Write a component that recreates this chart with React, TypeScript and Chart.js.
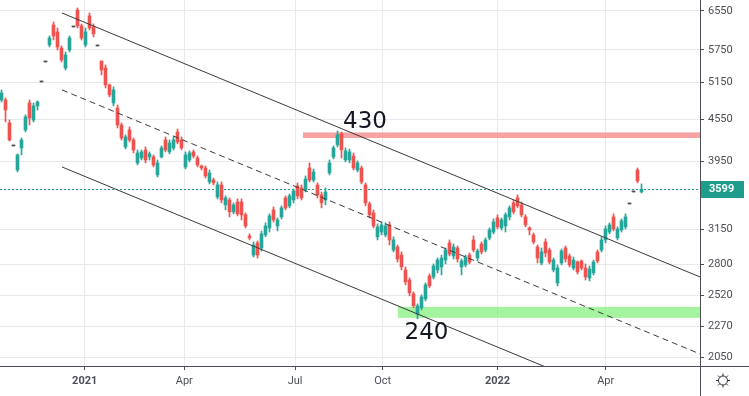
import React, { useEffect, useRef } from "react";
import { Chart, registerables } from "chart.js";

Chart.register(...registerables);

// ---- candle data (one entry per bar, oldest first) ----
const opens = [
  4859, 4859, 4498, 4164, 3841, 4136, 4393, 4811, 4543, 4762,
  5162, 5520, 5845, 6250, 6105, 5785, 5410, 5746, 6208, 6572,
  6229, 5845, 6442, 6208, 5825, 5538, 5410, 5110, 4811, 4730,
  4468, 4150, 4393, 4248, 3933, 3999, 4108, 4013, 4013, 3778,
  4013, 4248, 4081, 4136, 4364, 4248, 3880, 3972, 4081, 3999,
  3893, 3867, 3690, 3714, 3509, 3653, 3416, 3473, 3337, 3450,
  3450, 3304, 3078, 2887, 3007, 2956, 3089, 3162, 3359, 3183,
  3281, 3497, 3405, 3473, 3641, 3616, 3592, 3867, 3714, 3653,
  3533, 3473, 3803, 4013, 4178, 4335, 3972, 3972, 4026, 3841,
  3867, 3653, 3428, 3326, 3068, 3119, 3089, 3194, 2936, 2966,
  2887, 2746, 2655, 2534, 2369, 2418, 2491, 2691, 2682, 2746,
  2774, 2839, 3007, 2878, 2956, 2774, 2793, 2887, 3037, 2858,
  2996, 2936, 3058, 3119, 3270, 3162, 3183, 3281, 3439, 3497,
  3416, 3281, 3162, 3089, 2966, 2811, 3017, 2936, 2746, 2629,
  2811, 2956, 2878, 2764, 2820, 2830, 2764, 2673, 2719, 2917,
  2936, 3037, 3119, 3281, 3058, 3140, 3173, 3427, 3568, 3841,
  3568,
];
const highs = [
  5025, 4892, 4543, 4164, 4054, 4277, 4621, 4859, 4811, 4843,
  5162, 5520, 6024, 6313, 6187, 5825, 5708, 6024, 6208, 6617,
  6271, 6187, 6507, 6271, 5825, 5538, 5465, 5127, 5076, 4778,
  4498, 4321, 4438, 4277, 4108, 4108, 4150, 4081, 4040, 3972,
  4164, 4292, 4248, 4292, 4408, 4292, 4081, 4095, 4108, 4026,
  3906, 3893, 3841, 3739, 3690, 3690, 3521, 3497, 3439, 3485,
  3485, 3326, 3099, 3017, 3027, 3130, 3216, 3315, 3393, 3270,
  3405, 3521, 3544, 3604, 3678, 3653, 3765, 3933, 3854, 3678,
  3568, 3616, 3972, 4164, 4379, 4364, 4136, 4122, 4067, 3959,
  3893, 3678, 3450, 3359, 3205, 3226, 3216, 3226, 3068, 2986,
  2917, 2774, 2673, 2551, 2450, 2526, 2629, 2709, 2802, 2858,
  2887, 2956, 3037, 2996, 2976, 2849, 2887, 2907, 3078, 2946,
  3017, 3058, 3162, 3259, 3304, 3270, 3326, 3405, 3473, 3533,
  3450, 3304, 3173, 3109, 2986, 2956, 3047, 2956, 2858, 2793,
  2946, 2976, 2897, 2868, 2830, 2839, 2802, 2783, 2839, 2936,
  3068, 3183, 3216, 3315, 3173, 3259, 3315, 3427, 3568, 3867,
  3665,
];
const lows = [
  4827, 4513, 4234, 4164, 3816, 4040, 4364, 4468, 4513, 4698,
  5162, 5520, 5805, 5943, 5746, 5520, 5373, 5708, 6208, 6187,
  5943, 5805, 6145, 6004, 5825, 5285, 5059, 4909, 4762, 4423,
  4248, 4122, 4220, 4067, 3906, 3972, 3933, 3972, 3880, 3752,
  3999, 4081, 4054, 4108, 4192, 4108, 3854, 3946, 3999, 3880,
  3841, 3739, 3665, 3653, 3485, 3439, 3359, 3281, 3315, 3292,
  3248, 3162, 3037, 2868, 2858, 2926, 3068, 3119, 3226, 3130,
  3259, 3359, 3382, 3439, 3485, 3473, 3568, 3690, 3690, 3497,
  3382, 3416, 3778, 3986, 4150, 3999, 3946, 3933, 3841, 3816,
  3665, 3405, 3270, 3162, 3037, 3089, 3068, 2986, 2917, 2820,
  2746, 2612, 2517, 2418, 2330, 2401, 2475, 2586, 2664, 2719,
  2700, 2802, 2878, 2849, 2820, 2700, 2774, 2802, 2917, 2830,
  2897, 2917, 3037, 3099, 3151, 3140, 3119, 3248, 3315, 3382,
  3281, 3173, 3089, 2996, 2811, 2793, 2868, 2802, 2728, 2603,
  2793, 2820, 2774, 2746, 2709, 2746, 2655, 2646, 2700, 2811,
  2917, 3007, 3099, 3130, 3037, 3119, 3151, 3427, 3568, 3678,
  3556,
];
const closes = [
  4975, 4698, 4248, 4164, 4040, 4248, 4590, 4574, 4762, 4827,
  5162, 5520, 5983, 6024, 5805, 5557, 5651, 5983, 6208, 6229,
  5983, 6105, 6187, 6064, 5825, 5373, 5110, 4942, 5025, 4468,
  4277, 4292, 4248, 4108, 4067, 4081, 3972, 4054, 3906, 3933,
  4136, 4108, 4206, 4248, 4220, 4136, 4040, 4067, 4026, 3906,
  3867, 3765, 3803, 3678, 3653, 3473, 3497, 3337, 3416, 3315,
  3304, 3183, 3058, 2986, 2887, 3099, 3183, 3292, 3248, 3248,
  3382, 3382, 3521, 3580, 3521, 3497, 3727, 3714, 3816, 3533,
  3439, 3568, 3933, 4136, 4321, 4108, 4095, 4081, 3867, 3933,
  3690, 3439, 3304, 3183, 3173, 3194, 3183, 3037, 3037, 2849,
  2774, 2638, 2543, 2434, 2434, 2508, 2612, 2603, 2783, 2839,
  2858, 2936, 2897, 2966, 2849, 2830, 2868, 2820, 2936, 2926,
  2917, 3037, 3140, 3226, 3173, 3248, 3304, 3382, 3337, 3405,
  3304, 3194, 3140, 3017, 2858, 2917, 2907, 2820, 2839, 2764,
  2926, 2849, 2793, 2839, 2728, 2764, 2682, 2755, 2820, 2830,
  3037, 3151, 3194, 3151, 3151, 3237, 3281, 3427, 3568, 3702,
  3599,
];

// ---- axes ----
const xTickPos = [20.8, 45.7, 73.4, 95.3, 124.0, 151.05];
const xTickLabels = ["2021", "Apr", "Jul", "Oct", "2022", "Apr"];
const yTickValues = [2050, 2270, 2520, 2800, 3150, 3950, 4550, 5150, 5750, 6550];

// ---- drawn channel (bar index, price) ----
const upperChannel = [{ x: 15.125, y: 6506 }, { x: 174.625, y: 2682 }];
const middleChannel = [{ x: 15.125, y: 5025 }, { x: 174.625, y: 2071 }];
const lowerChannel = [{ x: 15.125, y: 3880 }, { x: 174.625, y: 1600 }];

// ---- zones: resistance, support ----
const zoneLabels = ["430", "240"];
const zoneLow = [4276, 2338];
const zoneHigh = [4357, 2426];
const zoneStart = [75.375, 99.125];
const zoneLabelIndex = [90.875, 106.25];
const zoneLabelPrice = [4543, 2237];

const UP = "#26a69a";
const DOWN = "#ef5350";
const FLAT = "#4a4a4a";
const ZONE_COLORS = ["rgba(245,140,140,0.8)", "rgba(140,240,135,0.8)"];
const FRAME = "#4a4d55";
const TEXT = "#4c4f57";

const overlayPlugin = {
  id: "overlay",
  beforeDatasetsDraw(chart: any) {
    const { ctx, chartArea: a, scales } = chart;
    const x = scales.x, y = scales.y;
    ctx.save();
    ctx.beginPath();
    ctx.rect(a.left, a.top, a.right - a.left, a.bottom - a.top);
    ctx.clip();
    for (let i = 0; i < zoneLabels.length; i++) {
      const x0 = x.getPixelForValue(zoneStart[i]);
      const x1 = a.right;
      const y0 = y.getPixelForValue(zoneHigh[i]);
      const y1 = y.getPixelForValue(zoneLow[i]);
      ctx.fillStyle = ZONE_COLORS[i];
      ctx.fillRect(x0, y0, x1 - x0, y1 - y0);
    }
    const last = closes[closes.length - 1];
    const py = Math.round(y.getPixelForValue(last)) + 0.5;
    ctx.strokeStyle = "#1f9d8c";
    ctx.lineWidth = 1;
    ctx.setLineDash([2, 2]);
    ctx.beginPath();
    ctx.moveTo(a.left, py);
    ctx.lineTo(a.right, py);
    ctx.stroke();
    ctx.restore();
  },
  afterDatasetsDraw(chart: any) {
    const { ctx, scales } = chart;
    const x = scales.x, y = scales.y;
    ctx.save();
    ctx.fillStyle = "#131722";
    ctx.font = '23px "DejaVu Sans"';
    ctx.textAlign = "center";
    ctx.textBaseline = "alphabetic";
    for (let i = 0; i < zoneLabels.length; i++) {
      const px = x.getPixelForValue(zoneLabelIndex[i]);
      const py = y.getPixelForValue(zoneLabelPrice[i]);
      ctx.fillText(zoneLabels[i], px, py + 8.5);
    }
    ctx.restore();
  },
  afterDraw(chart: any) {
    const { ctx, chartArea: a, scales, width, height } = chart;
    const y = scales.y;
    ctx.save();
    // frame
    ctx.strokeStyle = FRAME;
    ctx.lineWidth = 1;
    ctx.beginPath();
    ctx.moveTo(Math.round(a.right) + 0.5, 0);
    ctx.lineTo(Math.round(a.right) + 0.5, height);
    ctx.moveTo(0, Math.round(a.bottom) + 0.5);
    ctx.lineTo(width, Math.round(a.bottom) + 0.5);
    ctx.stroke();
    // last price badge
    const last = closes[closes.length - 1];
    const py = Math.round(y.getPixelForValue(last));
    ctx.fillStyle = "#1f9d8c";
    ctx.fillRect(Math.round(a.right) + 1, py - 8, 43, 17);
    ctx.fillStyle = "#ffffff";
    ctx.font = "bold 11px Roboto";
    ctx.textAlign = "left";
    ctx.textBaseline = "middle";
    ctx.fillText(String(last), Math.round(a.right) + 9, py + 0.5);
    // settings icon
    const cx = (a.right + width) / 2 - 1.5, cy = (a.bottom + height) / 2 - 0.5;
    ctx.strokeStyle = "#2a2e39";
    ctx.lineWidth = 1;
    ctx.beginPath();
    ctx.arc(cx, cy, 4.5, 0, Math.PI * 2);
    ctx.stroke();
    ctx.beginPath();
    for (let k = 0; k < 8; k++) {
      const ang = (k * Math.PI) / 4;
      ctx.moveTo(cx + Math.cos(ang) * 4.5, cy + Math.sin(ang) * 4.5);
      ctx.lineTo(cx + Math.cos(ang) * 7, cy + Math.sin(ang) * 7);
    }
    ctx.stroke();
    ctx.restore();
  },
};

export default function App() {
  const ref = useRef<HTMLCanvasElement>(null);
  useEffect(() => {
    document.body.style.margin = "0";
    const canvas = ref.current;
    if (!canvas) return;
    const idx = closes.map((_, i) => i);
    const colors = idx.map((i) =>
      closes[i] > opens[i] ? UP : closes[i] < opens[i] ? DOWN : FLAT
    );
    const lineDs = (data: any[], dash: number[]) => ({
      type: "line" as const,
      data,
      borderColor: "#3a3a3a",
      borderWidth: 1,
      borderDash: dash,
      pointRadius: 0,
      fill: false,
      order: 0,
    });
    const chart = new Chart(canvas, {
      type: "bar",
      data: {
        datasets: [
          lineDs(upperChannel, []),
          lineDs(middleChannel, [6, 4]),
          lineDs(lowerChannel, []),
          {
            type: "bar",
            data: idx.map((i) => ({ x: i, y: [lows[i], highs[i]] })) as any,
            backgroundColor: colors,
            barThickness: 1,
            grouped: false,
            order: 3,
          },
          {
            type: "bar",
            data: idx.map((i) => ({ x: i, y: [opens[i], closes[i]] })) as any,
            backgroundColor: colors,
            barThickness: 3,
            minBarLength: 1,
            grouped: false,
            order: 2,
          },
        ] as any,
      },
      options: {
        animation: false,
        responsive: false,
        maintainAspectRatio: false,
        devicePixelRatio: 1,
        layout: { padding: 0 },
        plugins: { legend: { display: false }, tooltip: { enabled: false } },
        scales: {
          x: {
            type: "linear",
            min: -0.375,
            max: 174.625,
            offset: false,
            bounds: "data",
            afterBuildTicks: (s: any) => {
              s.ticks = xTickPos.map((v) => ({ value: v }));
            },
            afterFit: (s: any) => {
              s.height = 30;
              s.paddingLeft = 0;
              s.paddingRight = 0;
            },
            grid: { color: "#e7e9ee", tickColor: FRAME, tickLength: 4, offset: false },
            border: { display: false },
            ticks: {
              autoSkip: false,
              maxRotation: 0,
              padding: 5,
              color: TEXT,
              font: (c: any) => ({
                family: "Roboto",
                size: 11,
                weight: /^\d{4}$/.test(xTickLabels[c.index] || "") ? "bold" : "normal",
              }),
              callback: (_v: any, i: number) => xTickLabels[i],
            },
          },
          y: {
            type: "logarithmic",
            position: "right",
            min: 1989,
            max: 6796,
            bounds: "data",
            afterBuildTicks: (s: any) => {
              s.ticks = yTickValues.map((v) => ({ value: v }));
            },
            afterFit: (s: any) => {
              s.width = 49;
              s.paddingTop = 0;
              s.paddingBottom = 0;
            },
            grid: { color: "#e7e9ee", tickColor: FRAME, tickLength: 4 },
            border: { display: false },
            ticks: {
              autoSkip: false,
              padding: 4,
              color: TEXT,
              font: { family: "Roboto", size: 11 },
              callback: (v: any) => String(v),
            },
          },
        },
      } as any,
      plugins: [overlayPlugin],
    });
    return () => chart.destroy();
  }, []);
  return (
    <div style={{ width: 749, height: 396 }}>
      <canvas ref={ref} width={749} height={396} style={{ display: "block" }} />
    </div>
  );
}
